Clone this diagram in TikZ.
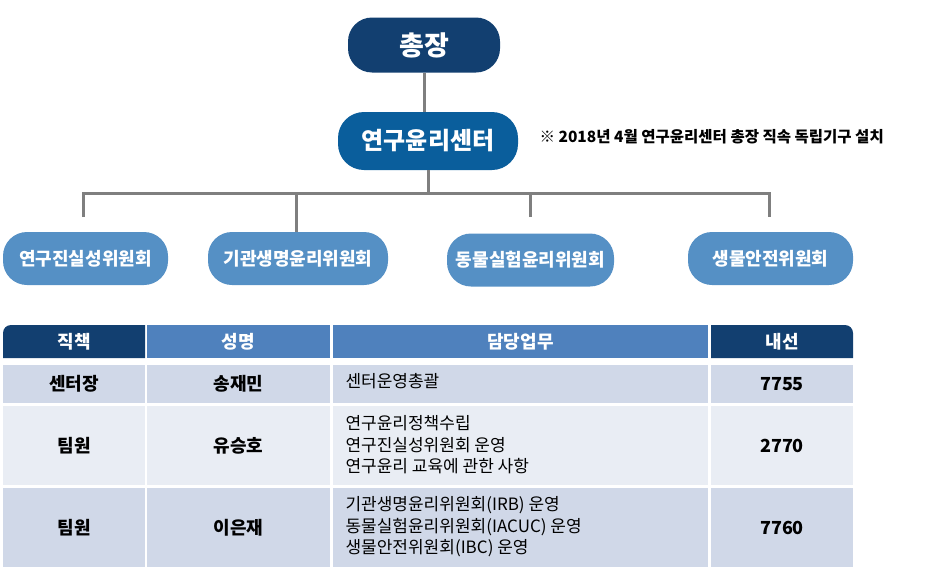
\documentclass[tikz,border=0pt]{standalone}
\usepackage{fontspec}
\setmainfont{Noto Sans CJK KR}
\begin{document}
\begin{tikzpicture}[x=1pt,y=-1pt,
  top/.style={rounded corners=24pt,minimum width=152pt,minimum height=55pt,fill=navy,text=white,font=\bfseries\fontsize{27}{29}\selectfont},
  mid/.style={rounded corners=26pt,minimum width=180pt,minimum height=58pt,fill=mblue,text=white,font=\bfseries\fontsize{24}{26}\selectfont},
  com/.style={rounded corners=24pt,minimum height=53pt,fill=lblue,text=white,font=\bfseries\fontsize{18}{20}\selectfont,inner sep=0pt},
  conn/.style={draw=lgray,line width=3pt},
  hd/.style={text=white,font=\bfseries\fontsize{18}{20}\selectfont},
  cb/.style={font=\bfseries\fontsize{18}{20}\selectfont},
  cr/.style={font=\fontsize{17}{21.5}\selectfont,align=left,anchor=west}]
\definecolor{navy}{HTML}{123F70}
\definecolor{mblue}{HTML}{0A5E9C}
\definecolor{lblue}{HTML}{5590C5}
\definecolor{lgray}{HTML}{7F7F7F}
\definecolor{hblue}{HTML}{4F81BD}
\definecolor{rowa}{HTML}{D0D8E8}
\definecolor{rowb}{HTML}{E9EDF4}
\useasboundingbox (0,0) rectangle (925,573);
\node[top] (pres) at (424,45) {총장};
\node[mid] (ctr) at (428,141) {연구윤리센터};
\node[anchor=west,font=\bfseries\fontsize{15.5}{17}\selectfont,text=black] (note) at (536,137) {※ 2018년 4월 연구윤리센터 총장 직속 독립기구 설치};
\node[com,minimum width=165pt] (c1) at (85.5,258.5) {연구진실성위원회};
\node[com,minimum width=180pt] (c2) at (298,258.5) {기관생명윤리위원회};
\node[com,minimum width=167pt] (c3) at (530.5,260) {동물실험윤리위원회};
\node[com,minimum width=165pt] (c4) at (770.5,258.5) {생물안전위원회};
\coordinate (bar) at (428,193);
\coordinate (t1) at (83,217); \coordinate (t3) at (530,217); \coordinate (t4) at (769,217);
\draw[conn] (pres.south) -- (pres.south |- ctr.north);
\draw[conn] (ctr.south) -- (bar);
\draw[conn] (t1) -- (83,193) -- (769,193) -- (t4);
\draw[conn] (296,193) -- (296,232);
\draw[conn] (t3) -- (530,193);
% table
\fill[navy] (3,358) [rounded corners=8pt] -- (3,325) [sharp corners] -- (145,325) -- (145,358) -- cycle;
\fill[hblue] (147,325) rectangle (330,358);
\fill[hblue] (333,325) rectangle (708,358);
\fill[navy] (711,358) -- (711,325) [rounded corners=8pt] -- (853,325) [sharp corners] -- (853,358) -- cycle;
\node[hd] (h1) at (74,341.5) {직책};
\node[hd] (h2) at (238.5,341.5) {성명};
\node[hd] (h3) at (520.5,341.5) {담당업무};
\node[hd] (h4) at (782,341.5) {내선};
\foreach \ya/\yb/\c in {365/403/rowa,406/485/rowb,488/567/rowa}{
  \fill[\c] (3,\ya) rectangle (145,\yb);
  \fill[\c] (147,\ya) rectangle (330,\yb);
  \fill[\c] (333,\ya) rectangle (708,\yb);
  \fill[\c] (711,\ya) rectangle (853,\yb);
}
\node[cb] (r1a) at (74,384) {센터장};
\node[cb] (r1b) at (238.5,384) {송재민};
\node[cr] (r1c) at (342,381) {센터운영총괄};
\node[cb] (r1d) at (782,384) {7755};
\node[cb] (r2a) at (74,446) {팀원};
\node[cb] (r2b) at (238.5,446) {유승호};
\node[cr] (r2c) at (342,445) {연구윤리정책수립\\연구진실성위원회 운영\\연구윤리 교육에 관한 사항};
\node[cb] (r2d) at (782,446) {2770};
\node[cb] (r3a) at (74,528) {팀원};
\node[cb] (r3b) at (238.5,528) {이은재};
\node[cr] (r3c) at (342,527) {기관생명윤리위원회(IRB) 운영\\동물실험윤리위원회(IACUC) 운영\\생물안전위원회(IBC) 운영};
\node[cb] (r3d) at (782,528) {7760};
\end{tikzpicture}
\end{document}
